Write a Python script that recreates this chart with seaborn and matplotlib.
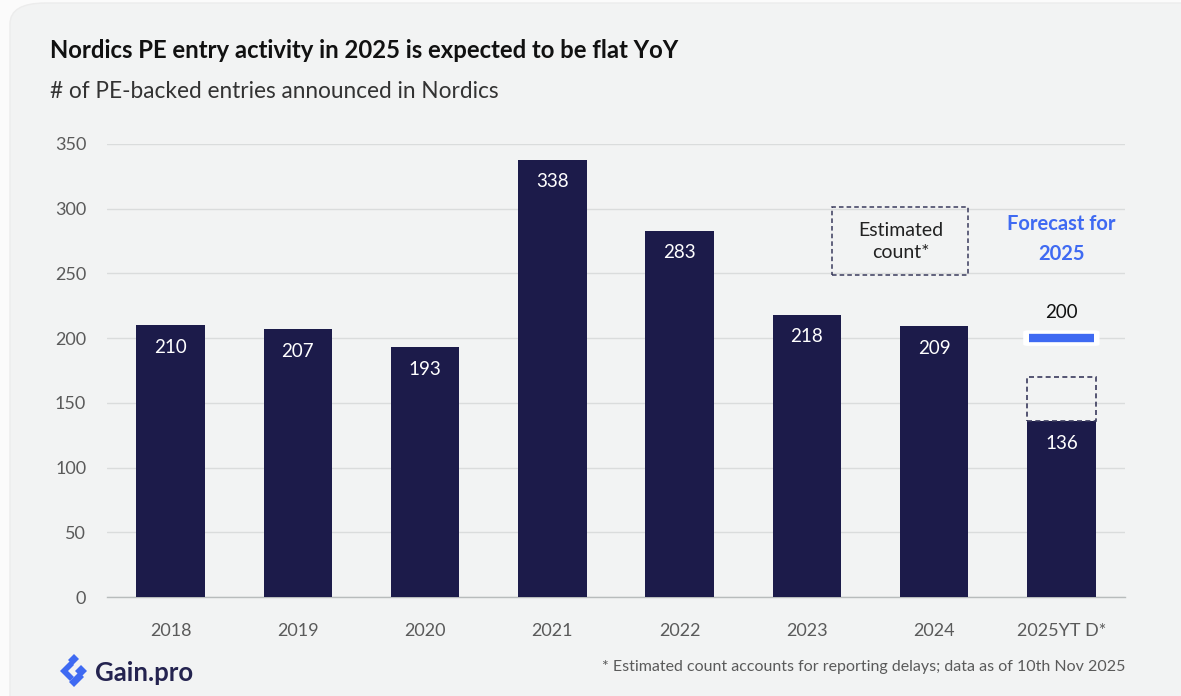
import matplotlib
matplotlib.use("Agg")
import matplotlib.pyplot as plt
from matplotlib.patches import FancyBboxPatch, Rectangle, Polygon
import seaborn as sns
import pandas as pd

# Data
years = ["2018", "2019", "2020", "2021", "2022", "2023", "2024", "2025YT D*"]
entries = [210, 207, 193, 338, 283, 218, 209, 136]
estimated_2025 = 170
forecast_2025 = 200

NAVY = "#1c1b4a"
BLUE = "#3f6af2"
CARD = "#f2f3f3"
GRID = "#dadcdc"

sns.set_theme(style="white")
plt.rcParams["font.family"] = ["Lato", "DejaVu Sans"]

fig = plt.figure(figsize=(11.81, 6.96), dpi=100)
fig.patch.set_facecolor("#fbfbfb")

# rounded card behind everything
card = FancyBboxPatch((10 / 1181, -0.05), 1.2, 1.05 - 3 / 696,
                      boxstyle="round,pad=0,rounding_size=0.03",
                      transform=fig.transFigure, facecolor=CARD,
                      edgecolor="#ececec", lw=1, zorder=-5)
fig.patches.append(card)

ax = fig.add_axes([107 / 1181, 1 - 597 / 696, (1125 - 107) / 1181, (597 - 144) / 696])
ax.set_facecolor("none")
ax.set_zorder(2)

df = pd.DataFrame({"year": years, "entries": entries})
sns.barplot(data=df, x="year", y="entries", color=NAVY, width=0.54,
            saturation=1, linewidth=0, ax=ax, zorder=3)

ax.set_ylim(0, 350)
ax.set_xlim(-0.5, len(years) - 0.5)
ax.set_yticks(range(0, 351, 50))
ax.grid(axis="y", color=GRID, lw=1, zorder=0)
ax.set_axisbelow(True)
for s in ["top", "right", "left"]:
    ax.spines[s].set_visible(False)
ax.spines["bottom"].set_color("#b8bcbc")
ax.spines["bottom"].set_linewidth(1)
ax.set_xlabel("")
ax.set_ylabel("")
ax.tick_params(axis="y", length=0, labelsize=13, labelcolor="#5a5a5a", pad=15)
ax.tick_params(axis="x", which="major", length=0, labelsize=13, labelcolor="#5a5a5a", pad=19)
ax.set_xticks([i - 0.5 for i in range(len(years) + 1)], minor=True)
ax.tick_params(axis="x", which="minor", length=8, color="#b8bcbc", width=1, direction="out")

# value labels inside the bars
for i, v in enumerate(entries):
    ax.text(i, v - 10.5, str(v), ha="center", va="top", color="white", fontsize=13.5)

# estimated remainder of 2025, dashed outline
last = len(years) - 1
ax.add_patch(Rectangle((last - 0.27, entries[-1]), 0.54, estimated_2025 - entries[-1],
                       fill=False, ls=(0, (3, 2)), lw=1.2, edgecolor="#3a3a5c", zorder=4))

# forecast marker
ax.add_patch(FancyBboxPatch((last - 0.3, forecast_2025 - 6), 0.6, 12,
                            boxstyle="round,pad=0,rounding_size=0.04",
                            facecolor="white", edgecolor="none", zorder=4,
                            mutation_aspect=30))
ax.plot([last - 0.255, last + 0.255], [forecast_2025, forecast_2025],
        color=BLUE, lw=6, solid_capstyle="butt", zorder=5)
ax.text(last, forecast_2025 + 13, str(forecast_2025), ha="center", va="bottom",
        color="#111111", fontsize=13.5)
ax.text(last, 276.5, "Forecast for\n2025", ha="center", va="center", color=BLUE,
        fontsize=14.5, fontweight="bold", linespacing=1.6)

# legend box for the estimated count
ax.add_patch(Rectangle((5.2, 249), 1.07, 52, fill=False, ls=(0, (3, 2)), lw=1.1,
                       edgecolor="#3a3a5c", zorder=4))
ax.text(5.735, 274.5, "Estimated\ncount*", ha="center", va="center", color="#222222",
        fontsize=14, linespacing=1.35)

# titles
fig.text(50 / 1181, 1 - 50 / 696, "Nordics PE entry activity in 2025 is expected to be flat YoY",
         fontsize=17.2, fontweight="bold", color="#111111", va="center", ha="left")
fig.text(50 / 1181, 1 - 92 / 696, "# of PE-backed entries announced in Nordics",
         fontsize=16.3, color="#333333", va="center", ha="left")

# footnote
fig.text(1125 / 1181, 1 - 667 / 696,
         "* Estimated count accounts for reporting delays; data as of 10th Nov 2025",
         fontsize=11.5, color="#5a5a5a", ha="right", va="center")

# brand mark
def px(x, y):
    return (x / 1181, 1 - y / 696)

icon = [
    [px(60, 671), px(70, 661), px(74, 665), px(68, 671), px(74, 677), px(70, 681)],
    [px(68, 660), px(74, 654), px(79, 659), px(73, 665)],
    [px(75, 671), px(81, 665), px(87, 671), px(81, 677)],
    [px(69, 682), px(79, 672), px(84, 677), px(74, 687)],
]
for pts in icon:
    fig.patches.append(Polygon(pts, closed=True, transform=fig.transFigure,
                               facecolor=BLUE, edgecolor="none"))
fig.text(95 / 1181, 1 - 673 / 696, "Gain.pro", fontsize=18.5, fontweight="bold",
         color="#24234f", ha="left", va="center")

fig.savefig("out.png", dpi=100, facecolor=fig.get_facecolor())
